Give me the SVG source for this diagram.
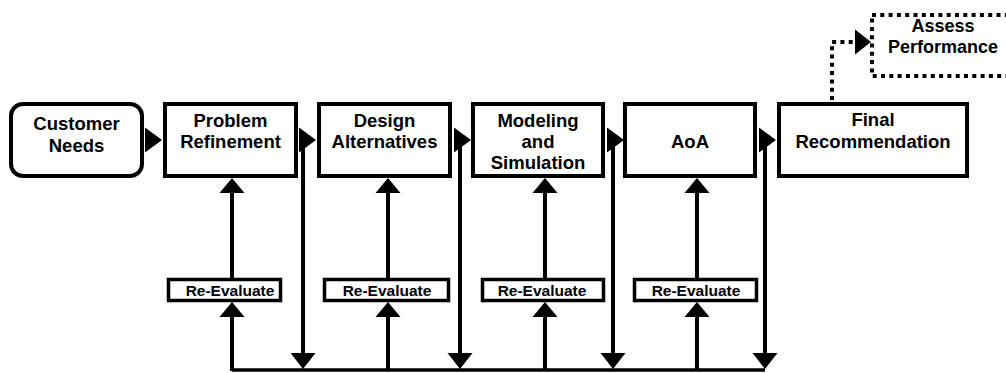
<svg xmlns="http://www.w3.org/2000/svg" width="1006" height="373" viewBox="0 0 1006 373">
<style>
.box{fill:#fff;stroke:#000;stroke-width:4}
.rebox{fill:#fff;stroke:#000;stroke-width:3.5}
.t{font-family:"Liberation Sans",Arial,sans-serif;font-weight:bold;font-size:18.5px;text-anchor:middle;fill:#000}
.rt{font-family:"Liberation Sans",Arial,sans-serif;font-weight:bold;font-size:15.5px;text-anchor:middle;fill:#000}
.ln{fill:none;stroke:#000;stroke-width:4}
.dot{fill:none;stroke:#000;stroke-width:4;stroke-dasharray:4 4.3}
.ah{fill:#000}
</style>
<rect width="1006" height="373" fill="#fff"/>
<g id="connectors">
  <!-- bottom bus -->
  <line x1="232" y1="370" x2="765" y2="370" stroke="#000" stroke-width="3.5"/>
  <!-- down lines -->
  <line class="ln" x1="303" y1="140" x2="303" y2="356"/>
  <polygon class="ah" points="290.5,353 315.5,353 303,369"/>
  <line class="ln" x1="460" y1="140" x2="460" y2="356"/>
  <polygon class="ah" points="447.5,353 472.5,353 460,369"/>
  <line class="ln" x1="613" y1="140" x2="613" y2="356"/>
  <polygon class="ah" points="600.5,353 625.5,353 613,369"/>
  <line class="ln" x1="765" y1="140" x2="765" y2="356"/>
  <polygon class="ah" points="752.5,353 777.5,353 765,369"/>
  <!-- up lines to Re-Evaluate -->
  <line class="ln" x1="232" y1="371" x2="232" y2="314"/>
  <polygon class="ah" points="219.5,317 244.5,317 232,302"/>
  <line class="ln" x1="388" y1="371" x2="388" y2="314"/>
  <polygon class="ah" points="375.5,317 400.5,317 388,302"/>
  <line class="ln" x1="545" y1="371" x2="545" y2="314"/>
  <polygon class="ah" points="532.5,317 557.5,317 545,302"/>
  <line class="ln" x1="697" y1="371" x2="697" y2="314"/>
  <polygon class="ah" points="684.5,317 709.5,317 697,302"/>
  <!-- up lines to main boxes -->
  <line class="ln" x1="232" y1="279" x2="232" y2="190"/>
  <polygon class="ah" points="219.5,193 244.5,193 232,178"/>
  <line class="ln" x1="388" y1="279" x2="388" y2="190"/>
  <polygon class="ah" points="375.5,193 400.5,193 388,178"/>
  <line class="ln" x1="545" y1="279" x2="545" y2="190"/>
  <polygon class="ah" points="532.5,193 557.5,193 545,178"/>
  <line class="ln" x1="697" y1="279" x2="697" y2="190"/>
  <polygon class="ah" points="684.5,193 709.5,193 697,178"/>
  <!-- right arrows between boxes -->
  <polygon class="ah" points="145,127.5 145,152.5 162,140"/>
  <polygon class="ah" points="299,127.5 299,152.5 316,140"/>
  <polygon class="ah" points="454,127.5 454,152.5 471,140"/>
  <polygon class="ah" points="607,127.5 607,152.5 624,140"/>
  <polygon class="ah" points="759,127.5 759,152.5 776,140"/>
  <!-- dotted to Assess Performance -->
  <path class="dot" d="M832,100 V42 H856"/>
  <polygon class="ah" points="855,29.5 855,54.5 871,42"/>
</g>
<g id="customer-needs">
  <rect class="box" x="11" y="104" width="131" height="72" rx="12"/>
  <text class="t" x="76.5" y="130">Customer</text>
  <text class="t" x="76.5" y="152">Needs</text>
</g>
<g id="problem-refinement">
  <rect class="box" x="165" y="104" width="131" height="72"/>
  <text class="t" x="230.5" y="127">Problem</text>
  <text class="t" x="230.5" y="148">Refinement</text>
</g>
<g id="design-alternatives">
  <rect class="box" x="319" y="104" width="131" height="72"/>
  <text class="t" x="384.5" y="127">Design</text>
  <text class="t" x="384.5" y="148">Alternatives</text>
</g>
<g id="modeling-simulation">
  <rect class="box" x="473" y="104" width="130" height="72"/>
  <text class="t" x="538" y="127">Modeling</text>
  <text class="t" x="538" y="148">and</text>
  <text class="t" x="538" y="169">Simulation</text>
</g>
<g id="aoa">
  <rect class="box" x="625" y="104" width="130" height="72"/>
  <text class="t" x="690" y="148">AoA</text>
</g>
<g id="final-recommendation">
  <rect class="box" x="779" y="104" width="188" height="72"/>
  <text class="t" x="873" y="126">Final</text>
  <text class="t" x="873" y="148">Recommendation</text>
</g>
<g id="assess-performance">
  <rect class="dot" x="872" y="15" width="142" height="61" fill="#fff"/>
  <text class="t" x="943" y="32" style="font-size:18px">Assess</text>
  <text class="t" x="943" y="53" style="font-size:18px">Performance</text>
</g>
<g id="re-evaluate-1">
  <rect class="rebox" x="168.5" y="279.5" width="112" height="21"/>
  <text class="rt" x="230" y="296">Re-Evaluate</text>
</g>
<g id="re-evaluate-2">
  <rect class="rebox" x="324.5" y="279.5" width="124" height="21"/>
  <text class="rt" x="387" y="296">Re-Evaluate</text>
</g>
<g id="re-evaluate-3">
  <rect class="rebox" x="482.5" y="279.5" width="121" height="21"/>
  <text class="rt" x="542" y="296">Re-Evaluate</text>
</g>
<g id="re-evaluate-4">
  <rect class="rebox" x="634.5" y="279.5" width="122" height="21"/>
  <text class="rt" x="696" y="296">Re-Evaluate</text>
</g>
</svg>
